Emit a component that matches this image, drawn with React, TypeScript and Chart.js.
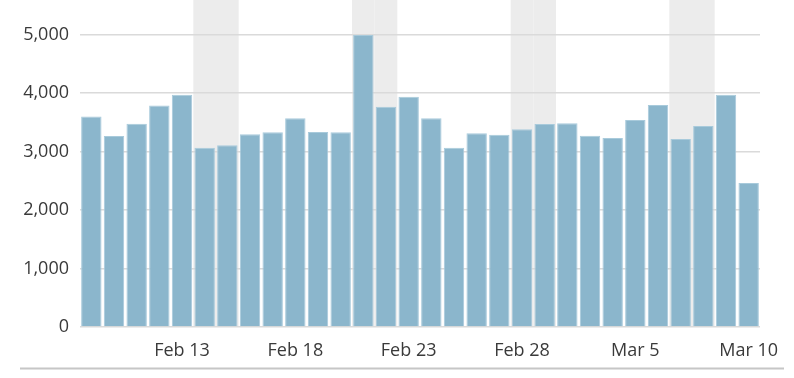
import React, { useEffect, useRef } from "react";
import { Chart, registerables } from "chart.js";

Chart.register(...registerables);

const dates: string[] = [
  "Feb 9", "Feb 10", "Feb 11", "Feb 12", "Feb 13", "Feb 14", "Feb 15", "Feb 16", "Feb 17", "Feb 18",
  "Feb 19", "Feb 20", "Feb 21", "Feb 22", "Feb 23", "Feb 24", "Feb 25", "Feb 26", "Feb 27", "Feb 28",
  "Mar 1", "Mar 2", "Mar 3", "Mar 4", "Mar 5", "Mar 6", "Mar 7", "Mar 8", "Mar 9", "Mar 10",
];

const visits: number[] = [
  3600, 3265, 3475, 3785, 3970, 3065, 3105, 3295, 3328, 3567,
  3333, 3328, 4990, 3766, 3937, 3567, 3065, 3311, 3288, 3380,
  3470, 3482, 3270, 3231, 3538, 3795, 3214, 3436, 3971, 2462,
];

const weekendDates: string[] = [
  "Feb 14", "Feb 15", "Feb 21", "Feb 22", "Feb 28", "Mar 1", "Mar 7", "Mar 8",
];

const tickLabels: string[] = ["Feb 13", "Feb 18", "Feb 23", "Feb 28", "Mar 5", "Mar 10"];

const FONT = { family: "'Open Sans', sans-serif", size: 18 };
const TEXT = "#3a3a3a";

const bandsPlugin = {
  id: "weekendBands",
  beforeDraw(chart: any) {
    const { ctx, chartArea, scales } = chart;
    const xs = scales.x;
    const w = xs.width / dates.length;
    ctx.save();
    ctx.fillStyle = "#ececec";
    dates.forEach((d, i) => {
      if (weekendDates.includes(d)) {
        const cx = xs.getPixelForValue(i);
        ctx.fillRect(cx - w / 2, 0, w, chartArea.bottom);
      }
    });
    ctx.restore();
  },
  afterDraw(chart: any) {
    const { ctx } = chart;
    ctx.save();
    ctx.strokeStyle = "#c6c6c6";
    ctx.lineWidth = 2;
    ctx.beginPath();
    ctx.moveTo(20, 368.5);
    ctx.lineTo(784, 368.5);
    ctx.stroke();
    ctx.restore();
  },
};

export default function App() {
  const ref = useRef<HTMLCanvasElement | null>(null);
  useEffect(() => {
    if (!ref.current) return;
    const chart = new Chart(ref.current, {
      type: "bar",
      data: {
        labels: dates,
        datasets: [
          {
            data: visits,
            backgroundColor: "#8bb6cc",
            borderColor: "#a8cadb",
            borderWidth: 1,
            barPercentage: 0.9,
            categoryPercentage: 1,
          },
        ],
      },
      plugins: [bandsPlugin],
      options: {
        animation: false,
        responsive: true,
        maintainAspectRatio: false,
        layout: { padding: { top: 34.5, right: 34, left: 0, bottom: 0 } },
        plugins: { legend: { display: false }, tooltip: { enabled: false } },
        scales: {
          x: {
            grid: { display: false, drawTicks: false },
            border: { display: false },
            ticks: {
              autoSkip: false,
              maxRotation: 0,
              padding: 13,
              color: TEXT,
              font: FONT,
              callback: (_v: any, i: number) => (tickLabels.includes(dates[i]) ? dates[i] : ""),
            },
            afterFit: (s: any) => {
              s.height = 51;
            },
          },
          y: {
            min: 0,
            max: 5000,
            grid: { color: "#dadada", lineWidth: 1.5, drawTicks: false },
            border: { display: false },
            ticks: {
              stepSize: 1000,
              padding: 11,
              color: TEXT,
              font: FONT,
              callback: (v: any) => Number(v).toLocaleString("en-US"),
            },
            afterFit: (s: any) => {
              s.width = 80;
            },
          },
        },
      },
    });
    return () => chart.destroy();
  }, []);
  return (
    <div style={{ position: "absolute", left: 0, top: 0, width: 794, height: 378 }}>
      <canvas ref={ref} />
    </div>
  );
}
